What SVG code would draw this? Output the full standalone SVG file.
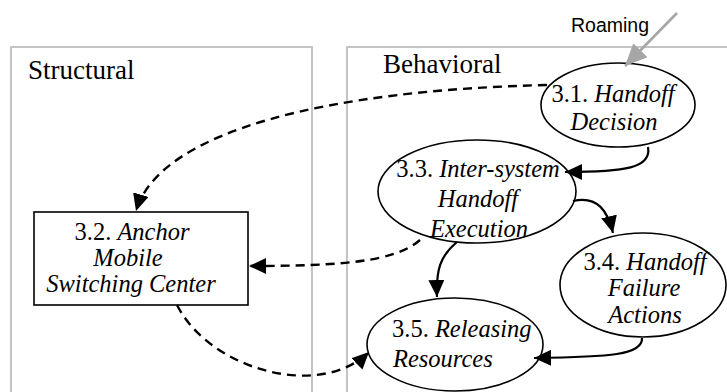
<svg xmlns="http://www.w3.org/2000/svg" width="727" height="392" viewBox="0 0 727 392">
  <style>
    .frame { fill: none; stroke: #c4c4c4; stroke-width: 2; }
    .title { font-family: 'Liberation Serif', 'Times New Roman', serif; font-size: 27px; fill: #000; }
    .node { fill: #fff; stroke: #000; stroke-width: 1.6; }
    .label { font-family: 'Liberation Serif', 'Times New Roman', serif; font-size: 24.5px; fill: #000; }
    .it { font-style: italic; }
    .ext { font-family: 'Liberation Sans', Arial, sans-serif; font-size: 19.5px; fill: #000; }
    .flow { fill: none; stroke: #000; stroke-width: 2.2; }
    .dash { fill: none; stroke: #000; stroke-width: 2.4; stroke-dasharray: 9 6; }
    .input { fill: none; stroke: #a6a6a6; stroke-width: 2.6; }
  </style>
  <defs>
    <marker id="head" markerUnits="userSpaceOnUse" markerWidth="17" markerHeight="16" refX="17" refY="8" orient="auto">
      <path d="M0,0 L17,8 L0,16 z" fill="#000"/>
    </marker>
    <marker id="headGray" markerUnits="userSpaceOnUse" markerWidth="22" markerHeight="20" refX="22" refY="10" orient="auto">
      <path d="M0,0 L22,10 L0,20 z" fill="#a6a6a6"/>
    </marker>
  </defs>

  <!-- views -->
  <g id="structural-view">
    <rect class="frame" x="11" y="47" width="301" height="360"/>
    <text class="title" x="28" y="79">Structural</text>
  </g>
  <g id="behavioral-view">
    <rect class="frame" x="347" y="47" width="400" height="360"/>
    <text class="title" x="383" y="73">Behavioral</text>
  </g>

  <!-- nodes -->
  <g id="n31">
    <ellipse class="node" cx="618" cy="105" rx="77" ry="42"/>
    <text class="label" text-anchor="middle" x="613" y="102">3.1. <tspan class="it">Handoff</tspan></text>
    <text class="label" text-anchor="middle" x="614" y="130"><tspan class="it">Decision</tspan></text>
  </g>
  <g id="n33">
    <ellipse class="node" cx="477" cy="191.5" rx="99" ry="51.5"/>
    <text class="label" text-anchor="middle" x="478" y="177">3.3. <tspan class="it">Inter-system</tspan></text>
    <text class="label" text-anchor="middle" x="478" y="207"><tspan class="it">Handoff</tspan></text>
    <text class="label" text-anchor="middle" x="479" y="237"><tspan class="it">Execution</tspan></text>
  </g>
  <g id="n32">
    <rect class="node" x="34" y="212" width="214" height="93"/>
    <text class="label" text-anchor="middle" x="132" y="240">3.2. <tspan class="it">Anchor</tspan></text>
    <text class="label" text-anchor="middle" x="128" y="266"><tspan class="it">Mobile</tspan></text>
    <text class="label" text-anchor="middle" x="131" y="292"><tspan class="it">Switching Center</tspan></text>
  </g>
  <g id="n34">
    <ellipse class="node" cx="643" cy="285" rx="83" ry="52"/>
    <text class="label" text-anchor="middle" x="645" y="270">3.4. <tspan class="it">Handoff</tspan></text>
    <text class="label" text-anchor="middle" x="644" y="296"><tspan class="it">Failure</tspan></text>
    <text class="label" text-anchor="middle" x="645" y="323"><tspan class="it">Actions</tspan></text>
  </g>
  <g id="n35">
    <ellipse class="node" cx="455" cy="344.5" rx="88" ry="46.5"/>
    <text class="label" x="392" y="337">3.5. <tspan class="it">Releasing</tspan></text>
    <text class="label" x="393" y="367"><tspan class="it">Resources</tspan></text>
  </g>

  <!-- external trigger -->
  <g id="roaming">
    <text class="ext" x="571" y="32">Roaming</text>
  </g>

  <!-- connectors -->
  <g id="connectors">
    <path class="input" d="M677 13 L625 66" marker-end="url(#headGray)"/>
    <path class="dash" d="M547 85 C330 90 160 130 136 211" marker-end="url(#head)"/>
    <path class="dash" d="M420 240 C395 262 340 266 249 266" marker-end="url(#head)"/>
    <path class="dash" d="M177 305 C210 370 320 400 369 352" marker-end="url(#head)"/>
    <path class="flow" d="M648 147 C652 168 625 172 565 172" marker-end="url(#head)"/>
    <path class="flow" d="M573 201 C598 195 608 212 613 233" marker-end="url(#head)"/>
    <path class="flow" d="M457 242 C440 256 436 270 437 297" marker-end="url(#head)"/>
    <path class="flow" d="M642 338 C643 355 610 357 534 358" marker-end="url(#head)"/>
  </g>
</svg>
